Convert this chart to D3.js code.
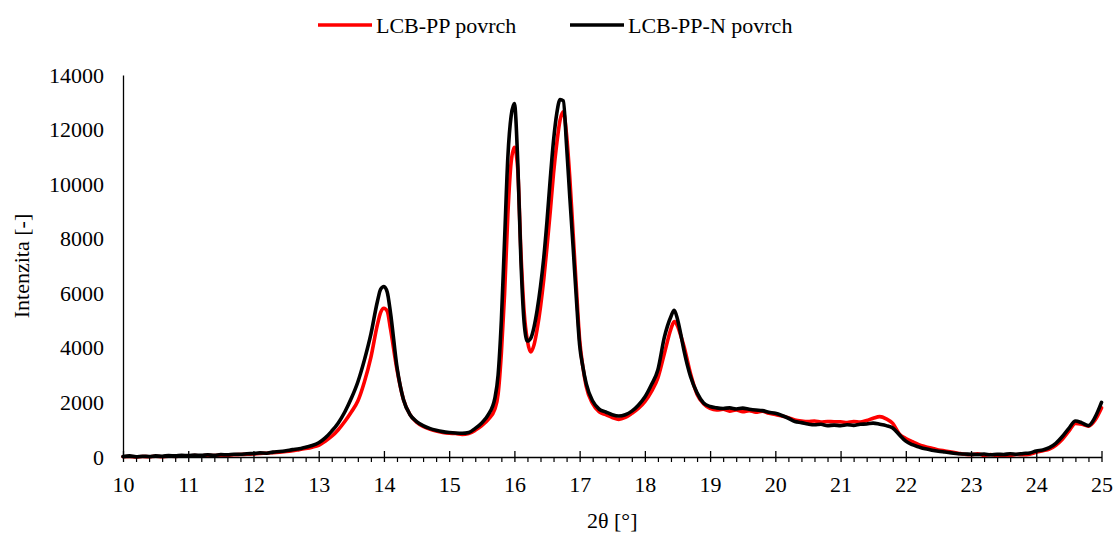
<!DOCTYPE html>
<html>
<head>
<meta charset="utf-8">
<script src="https://cdn.jsdelivr.net/npm/d3@7"></script>
</head>
<body style="margin:0">
<svg id="chart" width="1114" height="537" font-family="Times New Roman"></svg>
<script>
// 2θ angles [°]
const angles = [
  10.0,10.1,10.2,10.3,10.4,10.5,10.6,10.7,10.8,10.9,
  11.0,11.1,11.2,11.3,11.4,11.5,11.6,11.7,11.8,11.9,
  12.0,12.1,12.2,12.3,12.4,12.5,12.6,12.7,12.8,12.9,
  13.0,13.1,13.2,13.3,13.4,13.5,13.6,13.7,13.8,13.9,13.95,
  14.0,14.05,14.1,14.2,14.3,14.4,14.5,14.6,14.7,14.8,14.9,
  15.0,15.1,15.2,15.3,15.4,15.5,15.6,15.7,15.75,15.8,15.85,15.9,15.95,
  16.0,16.05,16.1,16.15,16.2,16.25,16.3,16.35,16.4,16.45,16.5,16.55,16.6,16.65,16.7,16.75,16.8,16.85,16.9,16.95,
  17.0,17.05,17.1,17.2,17.3,17.4,17.5,17.6,17.7,17.8,17.9,
  18.0,18.1,18.2,18.3,18.4,18.45,18.5,18.55,18.6,18.7,18.8,18.9,
  19.0,19.1,19.2,19.3,19.4,19.5,19.6,19.7,19.8,19.9,
  20.0,20.1,20.2,20.3,20.4,20.5,20.6,20.7,20.8,20.9,
  21.0,21.1,21.2,21.3,21.4,21.5,21.6,21.7,21.8,21.9,
  22.0,22.1,22.2,22.3,22.4,22.5,22.6,22.7,22.8,22.9,
  23.0,23.1,23.2,23.3,23.4,23.5,23.6,23.7,23.8,23.9,
  24.0,24.1,24.2,24.3,24.4,24.5,24.6,24.7,24.8,24.9,
  25.0
];

// LCB-PP povrch (red)
const lcbPP = [
  10,20,0,20,10,30,10,30,20,40,
  30,50,40,60,50,70,60,80,90,100,
  110,130,140,160,180,200,230,270,310,360,
  430,580,760,1000,1300,1650,2050,2750,3650,4850,5300,
  5450,5350,4700,3200,2100,1550,1280,1120,1020,950,900,
  870,860,830,860,980,1150,1380,1750,2300,3800,6000,8900,10800,
  11350,10600,7500,5300,4250,3850,4100,4700,5500,6500,7700,9000,10400,11500,12350,12650,11800,10200,8200,6200,
  4300,3300,2600,1950,1650,1550,1450,1380,1450,1600,1780,
  2030,2400,2900,3800,4700,4960,4800,4450,4050,3050,2300,1950,
  1780,1720,1750,1680,1720,1660,1700,1640,1680,1600,
  1560,1500,1440,1360,1320,1300,1320,1280,1300,1290,
  1290,1260,1300,1280,1340,1420,1480,1400,1230,850,
  680,560,450,380,320,260,220,180,140,100,
  80,120,60,90,50,70,60,90,80,100,
  170,230,290,430,650,950,1230,1200,1130,1350,
  1800
];

// LCB-PP-N povrch (black)
const lcbPPN = [
  20,40,10,30,20,40,30,50,40,60,
  50,70,60,80,60,90,80,100,100,120,
  130,150,140,180,200,230,270,300,360,420,
  520,700,950,1250,1650,2150,2750,3550,4500,5700,6150,
  6250,6050,5300,3300,2100,1550,1300,1150,1050,980,930,
  900,880,870,900,1050,1250,1550,2150,3000,5000,8000,11000,12500,
  12950,10900,7200,4900,4250,4350,4750,5400,6250,7300,8650,10200,11600,12600,13100,13050,11400,9500,7700,5800,
  4100,3300,2700,2050,1750,1650,1550,1500,1550,1680,1900,
  2200,2650,3200,4400,5150,5380,5050,4500,3900,2950,2350,1980,
  1850,1800,1780,1800,1760,1790,1750,1720,1700,1640,
  1600,1520,1420,1300,1260,1210,1180,1200,1150,1170,
  1150,1180,1160,1200,1210,1240,1200,1150,1060,820,
  580,450,370,300,250,210,180,150,120,110,
  100,90,110,80,100,90,120,100,130,150,
  220,260,340,500,750,1050,1320,1250,1150,1450,
  2000
];

const seriesNames = ["LCB-PP povrch", "LCB-PP-N povrch"];
const seriesColors = ["#FF0000", "#000000"];
const xTicks = [10,11,12,13,14,15,16,17,18,19,20,21,22,23,24,25];
const yTicks = [0,2000,4000,6000,8000,10000,12000,14000];
const xTitle = "2θ [°]";
const yTitle = "Intenzita [-]";

const FONT = "Times New Roman";

const svg = d3.select("#chart");
const margin = {left: 123, right: 1114 - 1101.5, top: 75, bottom: 537 - 457};
const W = 1114, H = 537;

const x = d3.scaleLinear().domain([10, 25]).range([margin.left, W - margin.right]);
const y = d3.scaleLinear().domain([0, 14000]).range([H - margin.bottom, margin.top]);

const fontSize = 22;

// Y axis: line only, labels
const yAxis = d3.axisLeft(y).tickValues(yTicks).tickSize(0).tickPadding(19).tickFormat(d3.format("d"));
const gy = svg.append("g").attr("transform", `translate(${margin.left},0)`).call(yAxis);
gy.attr("font-family", FONT).attr("font-size", fontSize);
gy.select(".domain").attr("stroke", "#000").attr("stroke-width", 1.3);
gy.selectAll("text").attr("font-family", FONT).attr("font-size", fontSize).attr("fill", "#000");

// series lines
const data = [lcbPP, lcbPPN];
const line = d3.line()
  .x((d, i) => x(angles[i]))
  .y(d => y(d))
  .curve(d3.curveMonotoneX);

data.forEach((vals, k) => {
  svg.append("path")
    .datum(vals)
    .attr("fill", "none")
    .attr("stroke", seriesColors[k])
    .attr("stroke-width", 3.6)
    .attr("stroke-linejoin", "round")
    .attr("stroke-linecap", "round")
    .attr("d", line);
});

// X axis
const gx = svg.append("g").attr("transform", `translate(0,${H - margin.bottom})`);
const minorTicks = d3.range(10, 25.0001, 0.2).map(v => +v.toFixed(1)).filter(v => Math.abs(v - Math.round(v)) > 1e-6);
const xMinor = d3.axisBottom(x).tickValues(minorTicks).tickSize(5).tickFormat("");
gx.append("g").call(xMinor).call(g => g.select(".domain").remove())
  .selectAll("line").attr("stroke", "#000").attr("stroke-width", 1.2);
const xAxis = d3.axisBottom(x).tickValues(xTicks).tickSizeInner(5).tickSizeOuter(0).tickPadding(14).tickFormat(d3.format("d"));
const gMaj = gx.append("g").call(xAxis);
gMaj.attr("font-family", FONT).attr("font-size", fontSize);
gMaj.select(".domain").attr("stroke", "#000").attr("stroke-width", 1.3);
gMaj.selectAll(".tick line").attr("stroke", "#000").attr("stroke-width", 1.3).attr("y1", -6).attr("y2", 5);
gMaj.selectAll("text").attr("font-family", FONT).attr("font-size", fontSize).attr("fill", "#000");

// Axis titles
svg.append("text")
  .attr("x", (x(10) + x(25)) / 2)
  .attr("y", 528)
  .attr("text-anchor", "middle")
  .attr("font-size", fontSize)
  .attr("font-family", FONT)
  .text(xTitle);

svg.append("text")
  .attr("transform", `translate(29,${(y(0) + y(14000)) / 2}) rotate(-90)`)
  .attr("text-anchor", "middle")
  .attr("font-size", fontSize)
  .attr("font-family", FONT)
  .text(yTitle);

// Legend
const legendItems = [
  {name: seriesNames[0], color: seriesColors[0], x0: 318},
  {name: seriesNames[1], color: seriesColors[1], x0: 570}
];
const ly = 25;
legendItems.forEach(it => {
  svg.append("line")
    .attr("x1", it.x0).attr("x2", it.x0 + 54)
    .attr("y1", ly).attr("y2", ly)
    .attr("stroke", it.color).attr("stroke-width", 3.6);
  svg.append("text")
    .attr("x", it.x0 + 58).attr("y", ly + 7.5)
    .attr("font-size", fontSize)
    .attr("font-family", FONT)
    .text(it.name);
});
</script>
</body>
</html>
